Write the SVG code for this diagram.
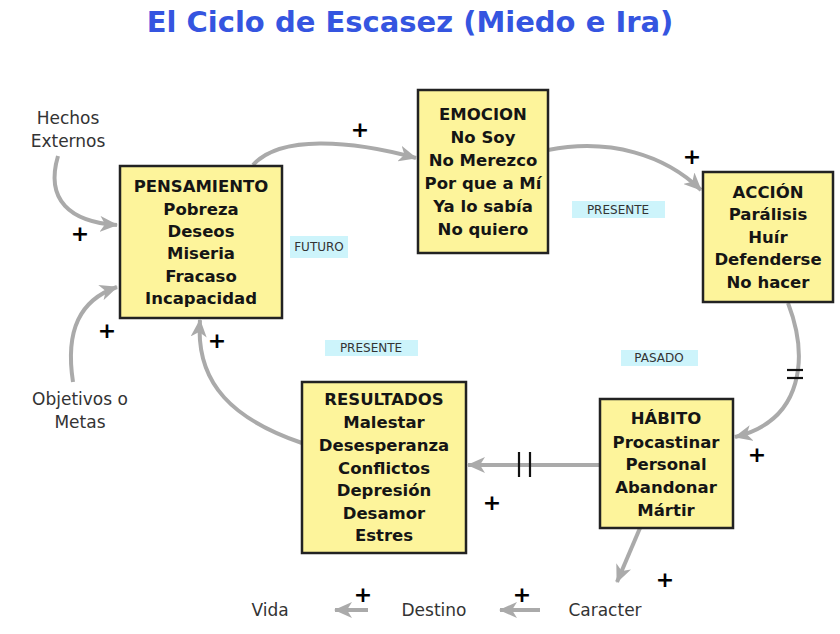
<svg xmlns="http://www.w3.org/2000/svg" width="840" height="634" viewBox="0 0 840 634">
<style>
.box{fill:#fdf49b;stroke:#222;stroke-width:2.5}
.nt{font-family:"DejaVu Sans",sans-serif;font-size:16.5px;font-weight:bold;fill:#151515;text-anchor:middle}
.st{font-family:"DejaVu Sans",sans-serif;font-size:17px;fill:#333;text-anchor:middle}
.lb{fill:#cdf4fb}
.lt{font-family:"DejaVu Sans",sans-serif;font-size:12px;fill:#333;text-anchor:middle}
.pl{font-family:"DejaVu Sans",sans-serif;font-size:22px;font-weight:bold;fill:#000;text-anchor:middle}
.cn{fill:none;stroke:#aaaaaa;stroke-width:4;marker-end:url(#ah)}
.dl{stroke:#111;stroke-width:2.2}
.title{font-family:"DejaVu Sans",sans-serif;font-size:29px;font-weight:bold;fill:#3555e0;text-anchor:middle}
</style>
<defs>
<marker id="ah" markerUnits="userSpaceOnUse" markerWidth="20" markerHeight="16" refX="17" refY="8" orient="auto">
<path d="M0,0 L18,8 L0,16 L5,8 z" fill="#aaaaaa"/>
</marker>
</defs>
<rect width="840" height="634" fill="#fff"/>
<text class="title" x="410" y="32">El Ciclo de Escasez (Miedo e Ira)</text>

<g id="connectors">
<path class="cn" d="M58,156 C45,200 70,222 117,225"/>
<path class="cn" d="M73,382 C65,330 80,300 117,287"/>
<path class="cn" d="M253,165 C280,135 350,140 416,158"/>
<path class="cn" d="M548,150 C610,138 665,155 701,190"/>
<path class="cn" d="M788,303 C808,355 805,420 735,437"/>
<line class="dl" x1="787" y1="370" x2="803" y2="370"/>
<line class="dl" x1="787" y1="378" x2="803" y2="378"/>
<path class="cn" d="M600,465 L468,465"/>
<line class="dl" x1="519" y1="452" x2="519" y2="477"/>
<line class="dl" x1="530" y1="452" x2="530" y2="477"/>
<path class="cn" d="M302,443 C235,420 195,385 200,320"/>
<path class="cn" d="M640,528 L617,582"/>
<path class="cn" d="M540,610 L500,610"/>
<path class="cn" d="M368,610 L335,610"/>
</g>

<g id="signs">
<text class="pl" x="360" y="137">+</text>
<text class="pl" x="692" y="164">+</text>
<text class="pl" x="80" y="241">+</text>
<text class="pl" x="107" y="338">+</text>
<text class="pl" x="217" y="348">+</text>
<text class="pl" x="757" y="462">+</text>
<text class="pl" x="492" y="510">+</text>
<text class="pl" x="665" y="587">+</text>
<text class="pl" x="363" y="602">+</text>
<text class="pl" x="522" y="602">+</text>
</g>

<g id="pensamiento">
<rect class="box" x="120" y="166" width="162" height="152"/>
<text class="nt" x="201" y="192">PENSAMIENTO</text>
<text class="nt" x="201" y="215">Pobreza</text>
<text class="nt" x="201" y="237">Deseos</text>
<text class="nt" x="201" y="259">Miseria</text>
<text class="nt" x="201" y="282">Fracaso</text>
<text class="nt" x="201" y="304">Incapacidad</text>
</g>

<g id="emocion">
<rect class="box" x="418" y="90" width="130" height="163"/>
<text class="nt" x="483" y="120">EMOCION</text>
<text class="nt" x="483" y="143">No Soy</text>
<text class="nt" x="483" y="166">No Merezco</text>
<text class="nt" x="483" y="189">Por que a Mí</text>
<text class="nt" x="483" y="212">Ya lo sabía</text>
<text class="nt" x="483" y="235">No quiero</text>
</g>

<g id="accion">
<rect class="box" x="703" y="172" width="130" height="130"/>
<text class="nt" x="768" y="198">ACCIÓN</text>
<text class="nt" x="768" y="220">Parálisis</text>
<text class="nt" x="768" y="243">Huír</text>
<text class="nt" x="768" y="265">Defenderse</text>
<text class="nt" x="768" y="288">No hacer</text>
</g>

<g id="habito">
<rect class="box" x="600" y="399" width="133" height="129"/>
<text class="nt" x="666" y="424">HÁBITO</text>
<text class="nt" x="666" y="448">Procastinar</text>
<text class="nt" x="666" y="470">Personal</text>
<text class="nt" x="666" y="493">Abandonar</text>
<text class="nt" x="666" y="516">Mártir</text>
</g>

<g id="resultados">
<rect class="box" x="302" y="382" width="164" height="171"/>
<text class="nt" x="384" y="405">RESULTADOS</text>
<text class="nt" x="384" y="428">Malestar</text>
<text class="nt" x="384" y="451">Desesperanza</text>
<text class="nt" x="384" y="474">Conflictos</text>
<text class="nt" x="384" y="496">Depresión</text>
<text class="nt" x="384" y="519">Desamor</text>
<text class="nt" x="384" y="541">Estres</text>
</g>

<g id="hechos">
<text class="st" x="68" y="124">Hechos</text>
<text class="st" x="68" y="147">Externos</text>
</g>
<g id="objetivos">
<text class="st" x="80" y="405">Objetivos o</text>
<text class="st" x="80" y="428">Metas</text>
</g>
<g id="vida"><text class="st" x="270" y="616">Vida</text></g>
<g id="destino"><text class="st" x="434" y="616">Destino</text></g>
<g id="caracter"><text class="st" x="605" y="616">Caracter</text></g>

<g id="labels">
<rect class="lb" x="290" y="236" width="58" height="22"/>
<text class="lt" x="319" y="251">FUTURO</text>
<rect class="lb" x="572" y="201" width="93" height="17"/>
<text class="lt" x="618" y="214">PRESENTE</text>
<rect class="lb" x="325" y="340" width="93" height="16"/>
<text class="lt" x="371" y="352">PRESENTE</text>
<rect class="lb" x="621" y="350" width="77" height="16"/>
<text class="lt" x="659" y="362">PASADO</text>
</g>
</svg>
